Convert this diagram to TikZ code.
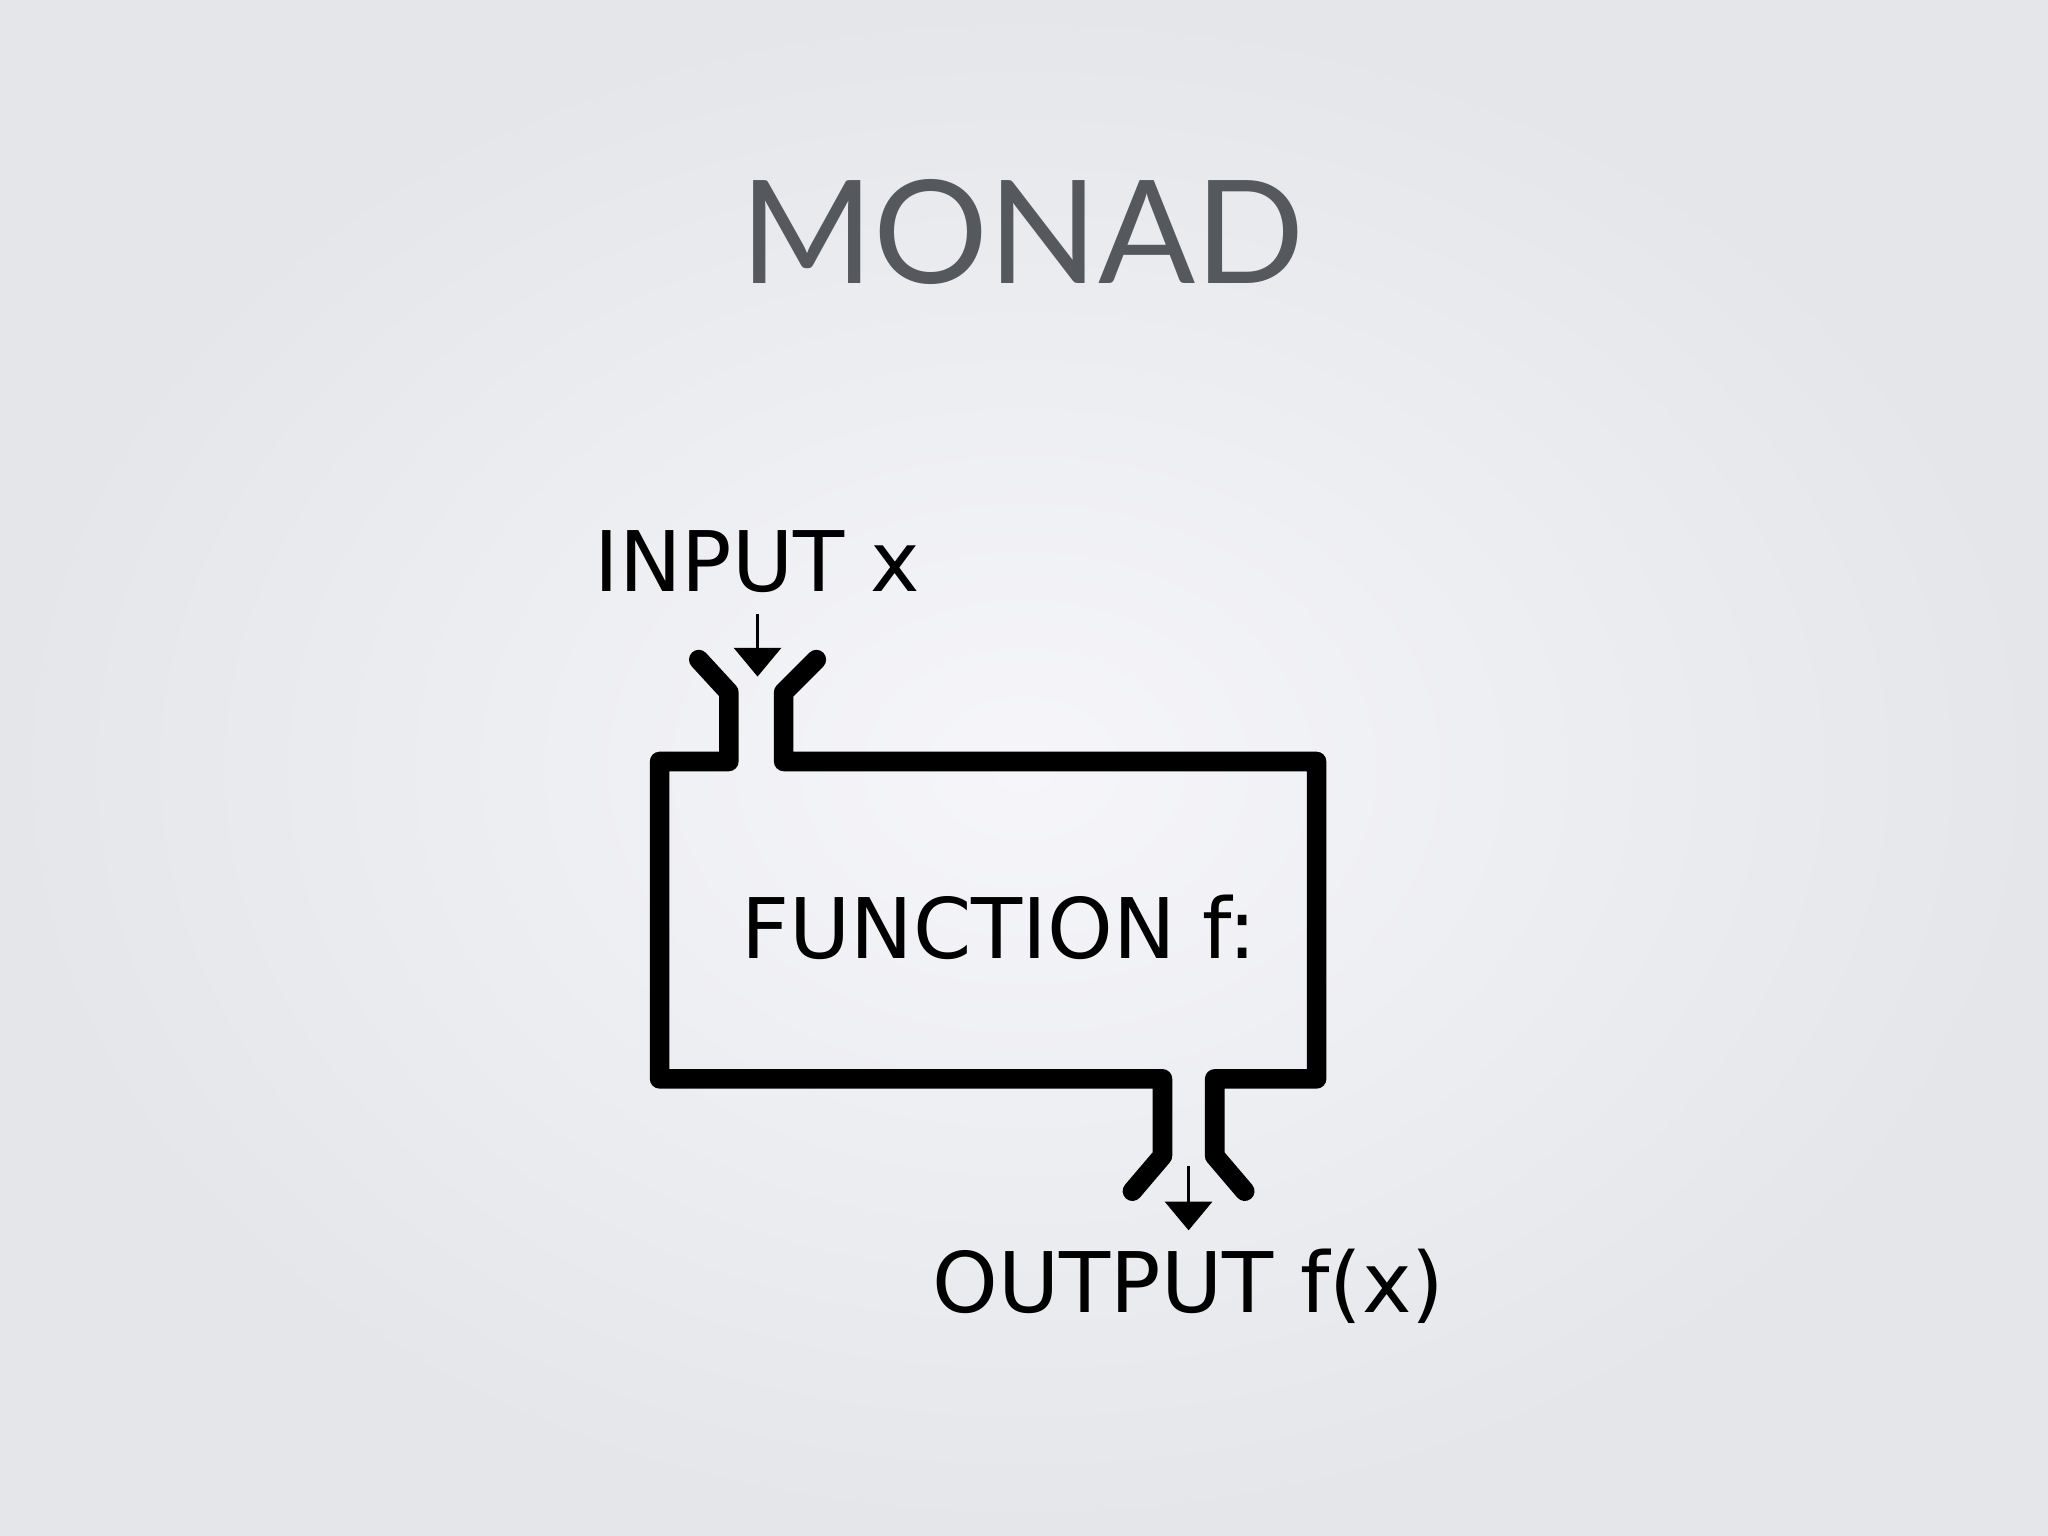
\documentclass[tikz,border=0pt]{standalone}
\usepackage{fontspec}
\setmainfont{DejaVu Sans}
\newfontfamily\titlefont{Lato}
\usetikzlibrary{arrows.meta}
\begin{document}
\begin{tikzpicture}[x=0.5pt,y=-0.5pt,
  pipe/.style={line width=7.5pt,line join=round,line cap=round,black},
  flow/.style={line width=1.2pt,-{Triangle[length=11pt,width=18pt]}},
  lbl/.style={font=\fontsize{32}{38}\selectfont,inner sep=0pt}]
\shade[inner color={rgb,255:red,246;green,246;blue,250},outer color={rgb,255:red,228;green,230;blue,234}] (0,0) rectangle (1568,1176);
\useasboundingbox (0,0) rectangle (1568,1176);
\node[font=\titlefont\fontsize{55}{64}\selectfont,text={rgb,255:red,85;green,88;blue,92}] (title) at (783,178) {MONAD};
\draw[pipe] (535,505)--(558,530)--(558,583)--(505,583)--(505,826)--(890,826)--(890,885)--(867,912);
\draw[pipe] (625,505)--(600,530)--(600,583)--(1008,583)--(1008,826)--(930,826)--(930,885)--(953,912);
\node[lbl] (in) at (580,430) {INPUT x};
\node[lbl] (fn) at (765,710) {FUNCTION f:};
\node[lbl] (out) at (910,985) {OUTPUT f(x)};
\coordinate (a1) at (580,470); \coordinate (a2) at (580,518);
\coordinate (b1) at (910,893); \coordinate (b2) at (910,942);
\draw[flow] (a1)--(a2);
\draw[flow] (b1)--(b2);
\end{tikzpicture}
\end{document}
